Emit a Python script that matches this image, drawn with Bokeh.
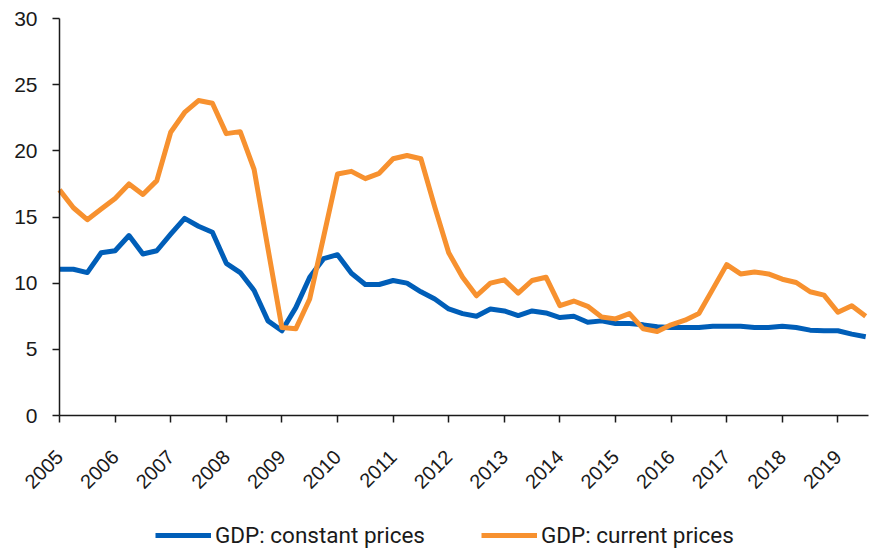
from math import pi
from bokeh.plotting import figure
from bokeh.models import Legend, LegendItem, FixedTicker, Range1d
from bokeh.embed import file_html
from bokeh.resources import INLINE

# Quarterly observations, 2005 Q1 .. 2019 Q3
start_year = 2005
n_quarters = 59
quarters = [start_year + 0.25 * i for i in range(n_quarters)]

gdp_constant = [11.05, 11.05, 10.8, 12.3, 12.45, 13.6, 12.2, 12.45, 13.7, 14.9,
                14.3, 13.85, 11.5, 10.8, 9.45, 7.15, 6.4, 8.15, 10.45,
                11.85, 12.15, 10.75, 9.9, 9.9, 10.2, 10.0, 9.35, 8.8, 8.05, 7.7,
                7.5, 8.05, 7.9, 7.55, 7.9, 7.75, 7.4, 7.5, 7.05, 7.15,
                6.95, 6.95, 6.85, 6.7, 6.65, 6.65, 6.65, 6.75, 6.75, 6.75,
                6.65, 6.65, 6.75, 6.65, 6.45, 6.4, 6.4, 6.15, 5.95]

gdp_current = [17.05, 15.7, 14.8, 15.6, 16.4, 17.5, 16.7, 17.75, 21.4, 22.9,
               23.8, 23.6, 21.3, 21.45, 18.6, 12.6, 6.65, 6.55, 8.8, 13.5,
               18.25, 18.45, 17.9, 18.3, 19.4, 19.65, 19.4, 15.75, 12.3, 10.45,
               9.05, 10.0, 10.25, 9.25, 10.2, 10.45, 8.3, 8.65, 8.25, 7.45,
               7.3, 7.7, 6.55, 6.35, 6.85, 7.2, 7.7, 9.55, 11.4, 10.7,
               10.85, 10.7, 10.3, 10.05, 9.35, 9.1, 7.8, 8.3, 7.5]

year_ticks = list(range(2005, 2020))
y_ticks = [0, 5, 10, 15, 20, 25, 30]

series_names = ["GDP: constant prices", "GDP: current prices"]
colors = ["#005EB8", "#F7912F"]

# ---- layout in canvas pixels ----
W, H = 873, 550
x_axis_px, px_per_year, x_axis_end = 59, 55.6, 2019.55   # y-axis at x=59
y_zero_px, y_top_px, y_max = 415, 18, 30                  # 0 at y=415, 30 at y=18
px_per_unit = (y_zero_px - y_top_px) / y_max

x_start = start_year - x_axis_px / px_per_year
x_end = start_year + (W - x_axis_px) / px_per_year
y_start = -(H - y_zero_px) / px_per_unit
y_end = y_max + y_top_px / px_per_unit

p = figure(width=W, height=H, output_backend="svg", toolbar_location=None,
           x_range=Range1d(x_start, x_end), y_range=Range1d(y_start, y_end),
           min_border=0)

r1 = p.line(quarters, gdp_constant, line_color=colors[0], line_width=5,
            line_join="round")
r2 = p.line(quarters, gdp_current, line_color=colors[1], line_width=5,
            line_join="round")

p.outline_line_color = None
p.xgrid.grid_line_color = None
p.ygrid.grid_line_color = None
p.background_fill_color = "white"
p.border_fill_color = "white"

for ax in (p.xaxis, p.yaxis):
    ax.axis_line_color = "#1a1a1a"
    ax.axis_line_width = 1.5
    ax.major_tick_line_color = "#1a1a1a"
    ax.major_tick_line_width = 1.5
    ax.major_tick_out = 7
    ax.major_tick_in = 0
    ax.minor_tick_line_color = None
    ax.major_label_text_font = "Liberation Sans"
    ax.major_label_text_color = "#1a1a1a"

p.xaxis.fixed_location = 0
p.xaxis.bounds = (start_year, x_axis_end)
p.xaxis.ticker = FixedTicker(ticks=year_ticks)
p.xaxis.major_label_orientation = pi / 4
p.xaxis.major_label_standoff = 31
p.xaxis.major_label_text_font_size = "20px"

p.yaxis.fixed_location = start_year
p.yaxis.bounds = (0, y_max)
p.yaxis.ticker = FixedTicker(ticks=y_ticks)
p.yaxis.major_label_standoff = 15
p.yaxis.major_label_text_font_size = "21px"

legend = Legend(items=[LegendItem(label=series_names[0], renderers=[r1]),
                       LegendItem(label=series_names[1], renderers=[r2])],
                orientation="horizontal", location=(155, 2),
                glyph_width=56, glyph_height=20, label_standoff=4, spacing=56,
                padding=0, margin=0, border_line_alpha=0,
                background_fill_alpha=0, label_height=20,
                label_text_font="Roboto", label_text_font_size="22.5px",
                label_text_color="#1a1a1a")
p.add_layout(legend, "center")

open("out.html", "w").write(file_html(p, INLINE))
